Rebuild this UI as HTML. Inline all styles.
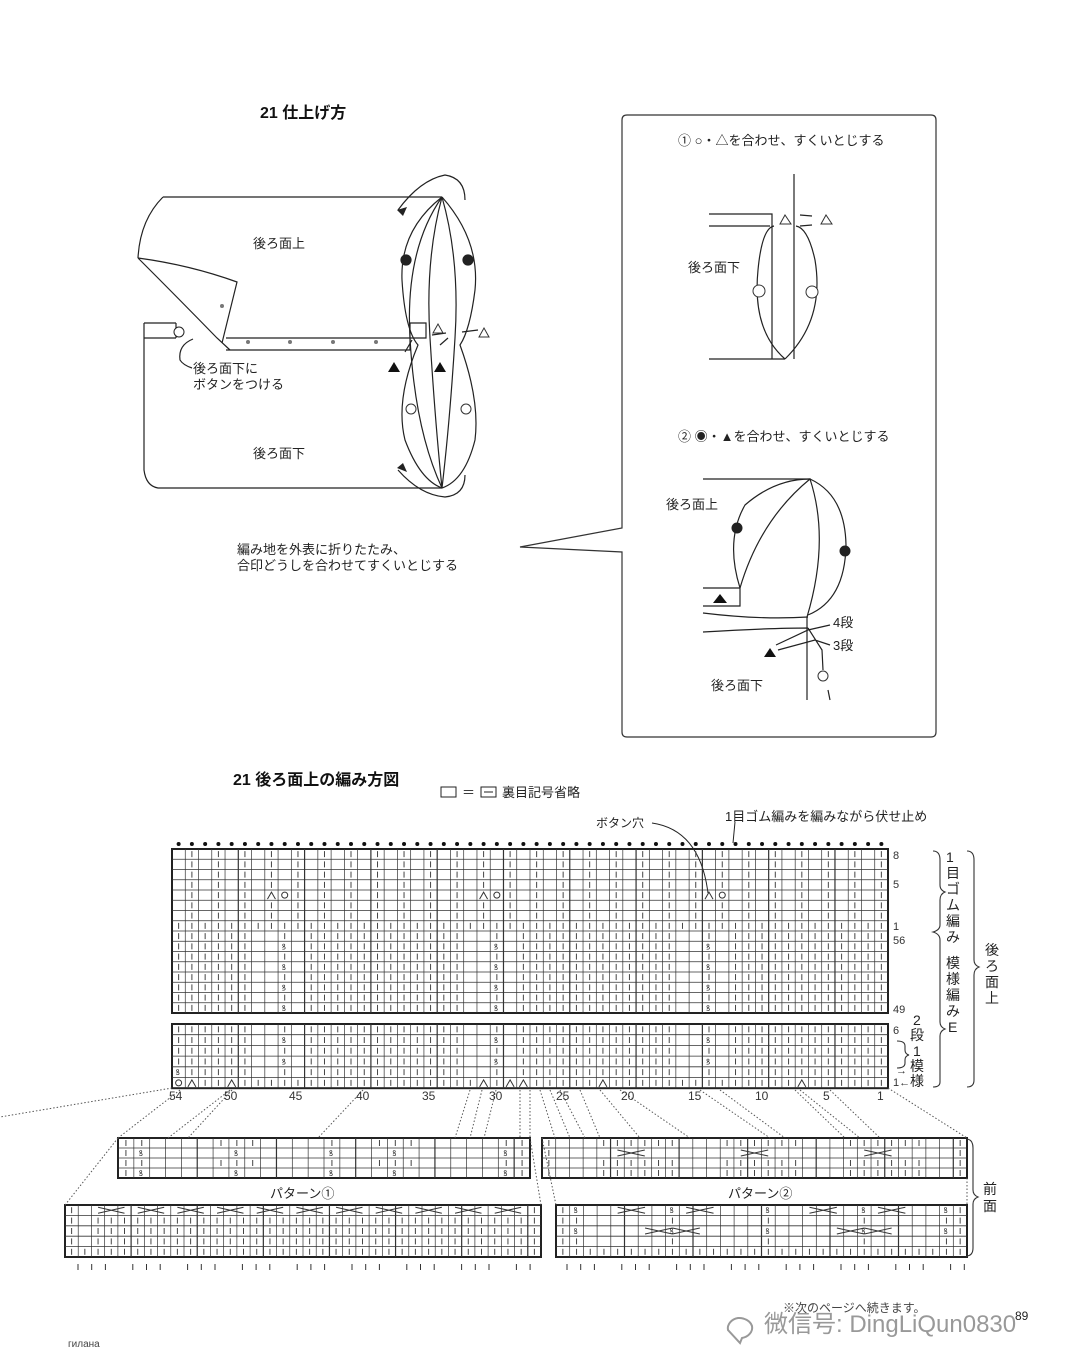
<!DOCTYPE html>
<html><head><meta charset="utf-8">
<style>
body{margin:0;background:#fff;}
svg{display:block;font-family:"Liberation Sans","Noto Sans CJK JP",sans-serif;}
</style></head>
<body>
<svg id="s" width="1080" height="1371" viewBox="0 0 1080 1371" xmlns="http://www.w3.org/2000/svg">
<rect width="1080" height="1371" fill="#fff"/>
<g fill="none" stroke="#222" stroke-width="1.2">
<!-- top illustration -->
<path d="M163,197 L442,197"/>
<path d="M163,197 Q140,220 138,258"/>
<path d="M138,258 Q180,300 217,338 L230,350"/>
<path d="M138,258 Q190,265 237,282 L222,343"/>
<path d="M144,323 L176,323 M226,338 L410,338 M144,323 L144,470 Q146,486 158,488 L442,488"/>
<path d="M144,338 L176,338 M226,350 L410,350 L410,323 L426,323 L426,338 L410,338"/>
<path d="M176,323 L176,338"/>
<path d="M442,197 Q405,250 410,338 Q415,430 442,488"/>
<path d="M442,197 Q425,260 430,338 Q435,420 442,488"/>
<path d="M442,197 Q460,260 455,338 Q450,420 442,488"/>
<path d="M442,197 Q400,230 402,280 Q405,330 418,345 Q395,400 405,440 Q420,480 442,488"/>
<path d="M442,197 Q480,240 475,290 Q470,330 460,345 Q480,400 475,440 Q465,480 442,488"/>
<path d="M398,210 Q420,180 445,175 Q465,178 465,200"/>
<path d="M398,470 Q420,495 445,497 Q465,495 465,475"/>
<path d="M193,339 Q178,345 180,360 Q183,365 192,368"/>
<path d="M432,335 L446,333 M462,332 L478,330 M440,345 L448,338 M412,340 L405,352"/>
</g>
<g fill="#222"><path d="M397,210 l10,-3 l-4,9z"/><path d="M397,468 l10,4 l-4,-9z"/></g>
<circle cx="179" cy="332" r="5" fill="#fff" stroke="#222"/>
<g fill="#777"><circle cx="222" cy="306" r="2"/><circle cx="248" cy="342" r="2"/><circle cx="290" cy="342" r="2"/><circle cx="333" cy="342" r="2"/><circle cx="376" cy="342" r="2"/></g>
<g stroke="#222" stroke-width="1.2"><circle cx="406" cy="260" r="5" fill="#222"/><circle cx="468" cy="260" r="5" fill="#222"/></g>
<g fill="#fff" stroke="#333"><circle cx="411" cy="409" r="5"/><circle cx="466" cy="409" r="5"/><path d="M433,333 l5,-9 l5,9z"/><path d="M479,337 l5,-9 l5,9z"/></g>
<g fill="#111"><path d="M388,372 l6,-10 l6,10z"/><path d="M434,372 l6,-10 l6,10z"/></g>
<text x="253" y="248" font-size="13" fill="#222">後ろ面上</text>
<text x="253" y="458" font-size="13" fill="#222">後ろ面下</text>
<text x="193" y="373" font-size="13" fill="#222">後ろ面下に</text>
<text x="193" y="389" font-size="13" fill="#222">ボタンをつける</text>
<text x="237" y="554" font-size="13" fill="#222">編み地を外表に折りたたみ、</text>
<text x="237" y="570" font-size="13" fill="#222">合印どうしを合わせてすくいとじする</text>
<text x="260" y="118" font-size="16" font-weight="bold" fill="#111">21 仕上げ方</text>

<!-- right box -->
<path d="M627,115 L931,115 Q936,115 936,120 L936,732 Q936,737 931,737 L627,737 Q622,737 622,732 L622,552 L520,547 L622,528 L622,120 Q622,115 627,115Z" fill="#fff" stroke="#333" stroke-width="1.2"/>
<text x="678" y="145" font-size="13" fill="#222">① ○・△を合わせ、すくいとじする</text>
<g fill="none" stroke="#222" stroke-width="1.2">
<path d="M709,214 L772,214 L772,359 M709,226 L770,226 M709,359 L785,359 M794,174 L794,359"/>
<path d="M785,359 Q752,330 758,270 Q762,228 774,226"/>
<path d="M785,359 Q825,320 815,260 Q808,228 796,226"/>
<path d="M800,215 L812,216 M800,226 L812,225"/>
</g>
<g fill="#fff" stroke="#333"><path d="M780,224 l5,-9 l6,9z"/><path d="M821,224 l5,-9 l6,9z"/><circle cx="759" cy="291" r="6"/><circle cx="812" cy="292" r="6"/></g>
<text x="688" y="272" font-size="13" fill="#222">後ろ面下</text>
<text x="678" y="441" font-size="13" fill="#222">② ◉・▲を合わせ、すくいとじする</text>
<g fill="none" stroke="#222" stroke-width="1.2">
<path d="M703,479 L810,479 M703,588 L740,588 L740,606 L703,606"/>
<path d="M740,588 Q725,540 745,505 Q775,479 810,479 Q845,495 846,545 Q845,600 808,615"/>
<path d="M740,588 Q760,520 810,479 Q830,540 807,617 L807,700"/>
<path d="M703,613 Q760,620 808,617 M703,632 Q770,628 808,628 M776,645 L808,630 L830,625 M778,650 L815,640 L830,645 M808,628 L822,650 L823,670 M828,690 L830,700"/>
</g>
<g fill="#222" stroke="#222"><circle cx="737" cy="528" r="5"/><circle cx="845" cy="551" r="5"/></g>
<g fill="#111"><path d="M713,603 l7,-9 l7,9z"/><path d="M764,657 l6,-9 l6,9z"/></g>
<circle cx="823" cy="676" r="5" fill="#fff" stroke="#333"/>
<text x="666" y="509" font-size="13" fill="#222">後ろ面上</text>
<text x="833" y="627" font-size="13" fill="#222">4段</text>
<text x="833" y="650" font-size="13" fill="#222">3段</text>
<text x="711" y="690" font-size="13" fill="#222">後ろ面下</text>

<!-- chart titles -->
<text x="233" y="785" font-size="16" font-weight="bold" fill="#111">21 後ろ面上の編み方図</text>
<rect x="441" y="787" width="15" height="10" fill="none" stroke="#222"/>
<text x="462" y="797" font-size="13" fill="#222">＝</text>
<rect x="481" y="787" width="15" height="10" fill="none" stroke="#222"/><line x1="484" y1="792" x2="493" y2="792" stroke="#222"/>
<text x="502" y="797" font-size="13" fill="#222">裏目記号省略</text>
<text x="725" y="821" font-size="13" fill="#222">1目ゴム編みを編みながら伏せ止め</text>
<text x="596" y="827" font-size="12" fill="#222">ボタン穴</text>
<path d="M652,823 Q700,830 708,893" fill="none" stroke="#222"/>
<path d="M735,822 L733,843" fill="none" stroke="#222"/>
<g id="grids"></g>
<g font-size="11" fill="#333">
<text x="893" y="859">8</text><text x="893" y="888">5</text><text x="893" y="930">1</text><text x="893" y="944">56</text><text x="893" y="1013">49</text><text x="893" y="1034">6</text><text x="893" y="1086">1←</text><text x="896" y="1074">→</text>
</g>
<g font-size="12" fill="#333">
<text x="169" y="1100">54</text><text x="224" y="1100">50</text><text x="289" y="1100">45</text><text x="356" y="1100">40</text><text x="422" y="1100">35</text><text x="489" y="1100">30</text><text x="556" y="1100">25</text><text x="621" y="1100">20</text><text x="688" y="1100">15</text><text x="755" y="1100">10</text><text x="823" y="1100">5</text><text x="877" y="1100">1</text>
</g>
<g fill="none" stroke="#333" stroke-width="1.1">
<path d="M933,851 Q940,851 940,860 L940,885 Q940,890 945,892 Q940,894 940,900 L940,925 Q940,930 933,932 Q940,934 940,940 L940,1022 Q940,1027 945,1029 Q940,1031 940,1036 L940,1082 Q940,1087 933,1087"/>
<path d="M967,851 Q974,851 974,860 L974,960 Q974,965 979,967 Q974,969 974,975 L974,1080 Q974,1087 967,1087"/>
<path d="M897,1041 Q905,1041 905,1046 L905,1050 Q905,1054 909,1055 Q905,1056 905,1060 L905,1063 Q905,1068 897,1068"/>
<path d="M966,1139 Q973,1139 973,1148 L973,1190 Q973,1195 978,1197 Q973,1199 973,1204 L973,1248 Q973,1256 966,1256"/>
</g>
<g font-size="14" fill="#222">
<text x="946" y="862">1</text><text x="946" y="878">目</text><text x="946" y="894">ゴ</text><text x="946" y="910">ム</text><text x="946" y="926">編</text><text x="946" y="942">み</text>
<text x="946" y="968">模</text><text x="946" y="984">様</text><text x="946" y="1000">編</text><text x="946" y="1016">み</text><text x="948" y="1032">E</text>
<text x="985" y="955">後</text><text x="985" y="971">ろ</text><text x="985" y="987">面</text><text x="985" y="1003">上</text>
<text x="913" y="1025">2</text><text x="910" y="1040">段</text><text x="913" y="1056">1</text><text x="910" y="1071">模</text><text x="910" y="1086">様</text>
<text x="983" y="1194">前</text><text x="983" y="1211">面</text>
</g>
<text x="270" y="1198" font-size="13" fill="#222">パターン①</text>
<text x="728" y="1198" font-size="13" fill="#222">パターン②</text>
<text x="68" y="1347" font-size="10" fill="#444">гилана</text>
<text x="783" y="1312" font-size="12" fill="#444">※次のページへ続きます。</text>
<text x="764" y="1332" font-size="24" fill="#999">微信号: DingLiQun0830</text>
<text x="1015" y="1320" font-size="12" fill="#222">89</text>
<g fill="none" stroke="#999" stroke-width="2"><path d="M728,1330 a12,10 0 1,1 14,8 l-2,5z"/></g>
</svg>
<script>
var g=document.getElementById('grids');var h='';
function grid(x0,y0,w,rh,cols,rows,fn){var cw=w/cols;
 h+='<rect x="'+x0+'" y="'+y0+'" width="'+w+'" height="'+(rh*rows)+'" fill="none" stroke="#222" stroke-width="2"/>';
 for(var c=1;c<cols;c++){var x=x0+c*cw;h+='<line x1="'+x+'" y1="'+y0+'" x2="'+x+'" y2="'+(y0+rh*rows)+'" stroke="#333" stroke-width="'+(c%5==0?1.2:0.7)+'"/>';}
 for(var r=1;r<rows;r++){var y=y0+r*rh;h+='<line x1="'+x0+'" y1="'+y+'" x2="'+(x0+w)+'" y2="'+y+'" stroke="#333" stroke-width="0.8"/>';}
 for(var r=0;r<rows;r++)for(var c=0;c<cols;c++){var s=fn(r,c);if(!s)continue;var cx=x0+(c+.5)*cw,cy=y0+(r+.5)*rh;
  if(s==1)h+='<line x1="'+cx+'" y1="'+(cy-3)+'" x2="'+cx+'" y2="'+(cy+3)+'" stroke="#444" stroke-width="1"/>';
  else if(s==2)h+='<text x="'+(cx-3)+'" y="'+(cy+3)+'" font-size="8" fill="#333">ꝸ</text>';
  else if(s==3)h+='<path d="M'+(cx-cw)+','+(cy-3)+' L'+(cx+cw)+','+(cy+3)+' M'+(cx-cw)+','+(cy+3)+' L'+(cx+cw)+','+(cy-3)+'" stroke="#333" fill="none"/>';
  else if(s==4)h+='<circle cx="'+cx+'" cy="'+cy+'" r="3" fill="none" stroke="#333"/>';
  else if(s==5)h+='<path d="M'+(cx-4)+','+(cy+4)+' L'+cx+','+(cy-3)+' L'+(cx+4)+','+(cy+4)+'" stroke="#333" fill="none"/>';}
}
var X0=172,W=716;
var tw=[8,24,40];
function pat(r,c){for(var i=0;i<3;i++){var t=tw[i];if(c==t)return (r%2==1)?2:1;if(c==t-2||c==t-1||c==t+1)return 0;}return 1;}
grid(X0,849,W,10.25,54,16,function(r,c){
 if(r<7){if(r==4&&(c==7||c==23||c==40))return 5;if(r==4&&(c==8||c==24||c==41))return 4;return c%2==1?1:0;}
 if(r==7)return 1;return pat(r,c);});
grid(X0,1024,W,10.7,54,6,function(r,c){
 if(r==5){if(c==0)return 4;if(c==1||c==4||c==32||c==23||c==25||c==26||c==47)return 5;return 1;}
 if(r==4&&c==0)return 2;return pat(r,c);});
for(var i=0;i<54;i++){h+='<circle cx="'+(X0+(i+.5)*W/54)+'" cy="844" r="2" fill="#111"/>';}
grid(118,1138,412,10,26,4,function(r,c){if(c==0||c==25)return 1;if(c==1||c==24)return r%2?2:1;if(c==6||c==8||c==16||c==18)return r%2==0?1:0;if(c==7||c==17)return r%2?2:1;if(c==13)return r%2?2:1;return 0;});
grid(65,1205,476,10.4,36,5,function(r,c){if(r==0){if(c==0||c==35)return 1;if(c%3==0&&c>1&&c<34)return 3;return 0;}if(c==1&&r<4)return 0;return 1;});
grid(542,1138,425,10,31,4,function(r,c){if(c==0||c==30)return 1;var m=[[4,9],[13,18],[22,27]];for(var i=0;i<3;i++)if(c>=m[i][0]&&c<=m[i][1]){if(r==1&&c==m[i][0]+2)return 3;if(r==1)return 0;return 1;}return 0;});
grid(556,1205,411,10.4,30,5,function(r,c){if(r==4)return 1;if(c==0||c==29)return 1;if(c==1||c==28||c==8||c==15||c==22)return r%2==0?2:1;if(r==0&&(c==5||c==10||c==19||c==24))return 3;if(r==2&&(c==7||c==9||c==21||c==23))return 3;return 0;});
var d='M172,1088 L0,1117 M888,1088 L967,1138 M118,1138 L65,1205 M530,1138 L541,1205 M542,1138 L556,1205 M967,1178 L967,1205';
var pts=[[180,118],[230,168],[232,188],[363,318],[470,455],[482,470],[496,484],[520,520],[530,530],[540,555],[550,570],[560,585],[580,600],[600,640],[620,690],[700,770],[720,785],[795,845],[800,860],[830,880]];
pts.forEach(function(p){d+=' M'+p[0]+',1090 L'+p[1]+',1138';});
h+='<path d="'+d+'" stroke="#555" stroke-dasharray="1.5,2" fill="none"/>';
var tk='';for(var i=0;i<34;i++){var x=78+i*13.7;if(i%4==3)continue;tk+='M'+x+',1264 L'+x+',1270 ';}
for(var i=0;i<30;i++){var x=567+i*13.7;if(i%4==3)continue;tk+='M'+x+',1264 L'+x+',1270 ';}
h+='<path d="'+tk+'" stroke="#333"/>';
g.innerHTML=h;
</script>
</body></html>
